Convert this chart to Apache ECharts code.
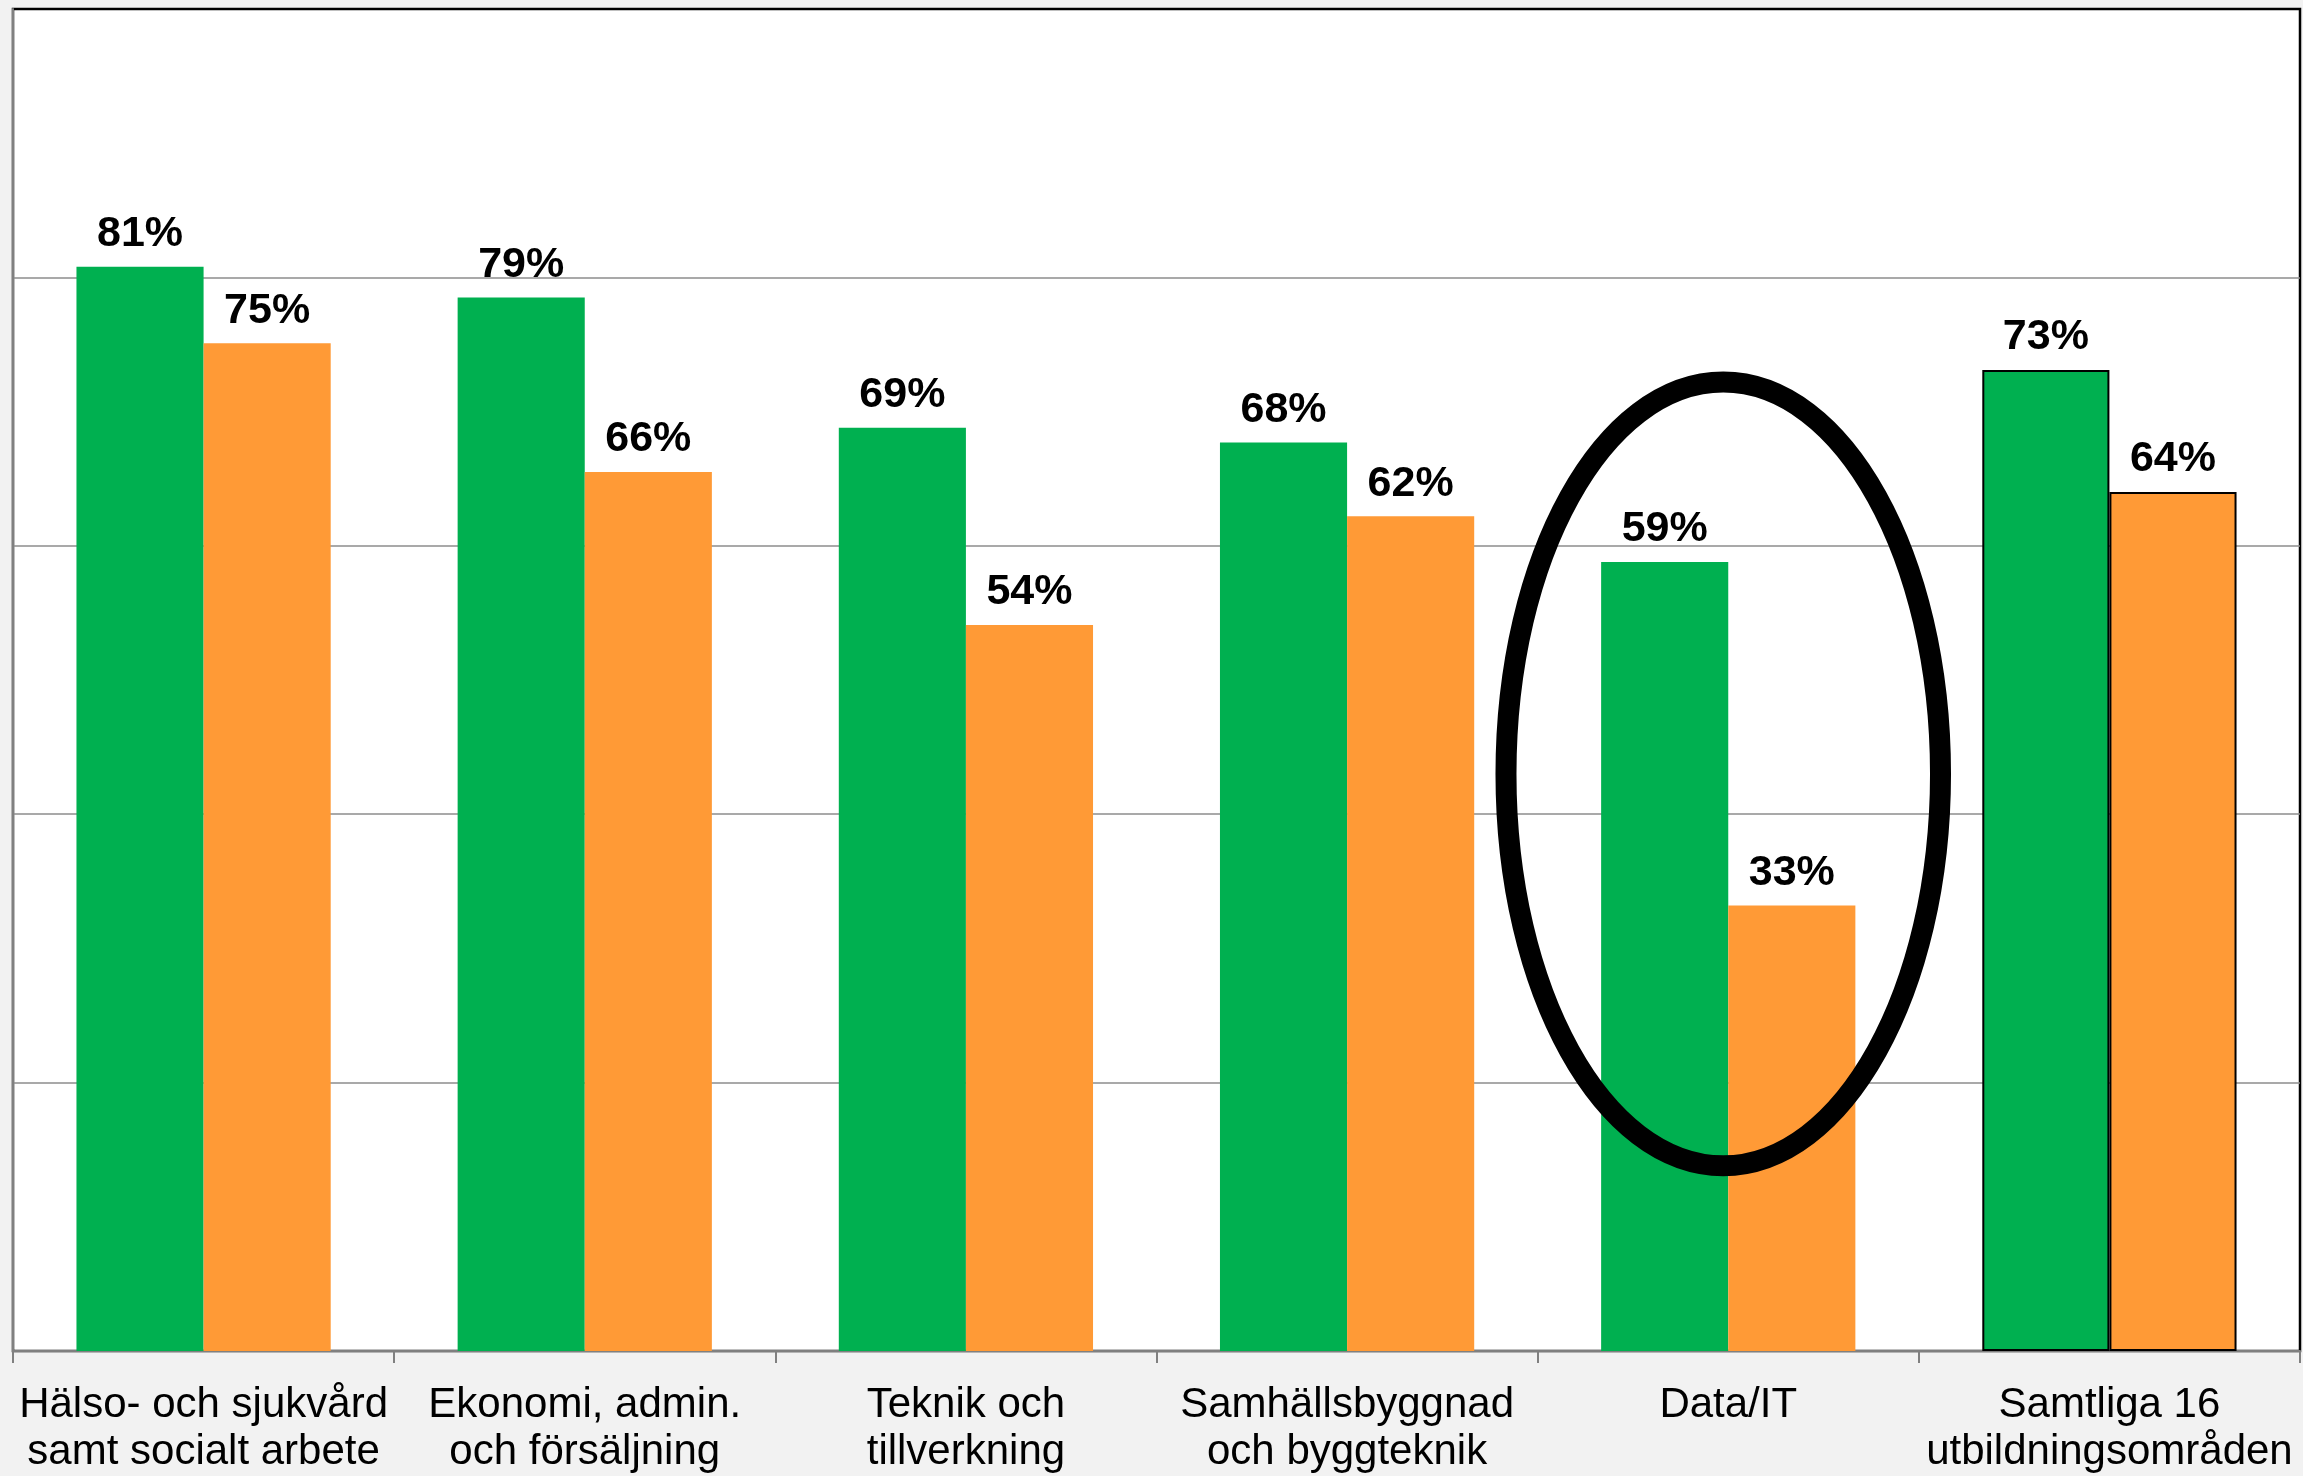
<!DOCTYPE html>
<html>
<head>
<meta charset="utf-8">
<script src="https://cdn.jsdelivr.net/npm/echarts@6/dist/echarts.min.js"></script>
<style>
html,body{margin:0;padding:0;background:#f2f2f2;}
#c{width:2303px;height:1476px;}
</style>
</head>
<body>
<div id="c"></div>
<script>
const categories = [
  'Hälso- och sjukvård\nsamt socialt arbete',
  'Ekonomi, admin.\noch försäljning',
  'Teknik och\ntillverkning',
  'Samhällsbyggnad\noch byggteknik',
  'Data/IT',
  'Samtliga 16\nutbildningsområden'
];
const seriesGreen = [80.8, 78.5, 68.8, 67.7, 58.8, 73.1];
const seriesOrange = [75.1, 65.5, 54.1, 62.2, 33.2, 64.0];
const yTicks = [0, 20, 40, 60, 80, 100];

// annotation ellipse around Data/IT (in data units)
const ellipseCategory = 'Data/IT';
const ellipseCenterValue = 43;
const ellipseHalfHeightValue = 29.2;
const ellipseHalfWidthCats = 0.57;

const chart = echarts.init(document.getElementById('c'), null, {renderer: 'canvas'});

const lastIdx = categories.length - 1;
function mkData(arr, color) {
  return arr.map((v, i) => i === lastIdx
    ? {value: v, itemStyle: {color: color, borderColor: '#000', borderWidth: 2}}
    : {value: v, itemStyle: {color: color}});
}

const labelCfg = {
  show: true,
  position: 'top',
  distance: 11,
  formatter: p => Math.round(p.value) + '%',
  color: '#000',
  fontFamily: 'Liberation Sans, Arial, sans-serif',
  fontWeight: 'bold',
  fontSize: 43
};

chart.setOption({
  backgroundColor: '#f2f2f2',
  animation: false,
  grid: {
    left: 13, right: 3, top: 9, bottom: 125,
    show: true,
    backgroundColor: '#ffffff',
    borderColor: '#000',
    borderWidth: 2.5
  },
  xAxis: {
    type: 'category',
    data: categories,
    axisLine: {show: true, lineStyle: {color: '#808080', width: 2}},
    axisTick: {show: true, alignWithLabel: false, length: 12, lineStyle: {color: '#808080', width: 2}},
    axisLabel: {
      interval: 0,
      margin: 31,
      color: '#000',
      fontFamily: 'Liberation Sans, Arial, sans-serif',
      fontSize: 42,
      lineHeight: 47
    }
  },
  yAxis: {
    type: 'value',
    min: yTicks[0],
    max: yTicks[yTicks.length - 1],
    interval: yTicks[1] - yTicks[0],
    axisLine: {show: true, lineStyle: {color: '#808080', width: 2}},
    axisTick: {show: false},
    axisLabel: {show: false},
    splitLine: {show: true, showMaxLine: false, lineStyle: {color: '#8c8c8c', width: 1.5}}
  },
  series: [
    {
      type: 'bar',
      data: mkData(seriesGreen, '#00b050'),
      barGap: '0%',
      barCategoryGap: '33.3%',
      label: labelCfg
    },
    {
      type: 'bar',
      data: mkData(seriesOrange, '#ff9a36'),
      barGap: '0%',
      barCategoryGap: '33.3%',
      label: labelCfg
    }
  ]
});

// ellipse annotation positioned through the chart's own scales
const catIdx = categories.indexOf(ellipseCategory);
const c = chart.convertToPixel({gridIndex: 0}, [catIdx, ellipseCenterValue]);
const c1 = chart.convertToPixel({gridIndex: 0}, [catIdx + 1, ellipseCenterValue + ellipseHalfHeightValue]);
const catW = c1[0] - c[0];
const ry = c[1] - c1[1];
chart.setOption({
  graphic: [{
    type: 'ellipse',
    shape: {cx: c[0] - 5, cy: c[1], rx: catW * ellipseHalfWidthCats, ry: ry},
    style: {fill: 'none', stroke: '#000', lineWidth: 21},
    z: 100
  }]
});
</script>
</body>
</html>
